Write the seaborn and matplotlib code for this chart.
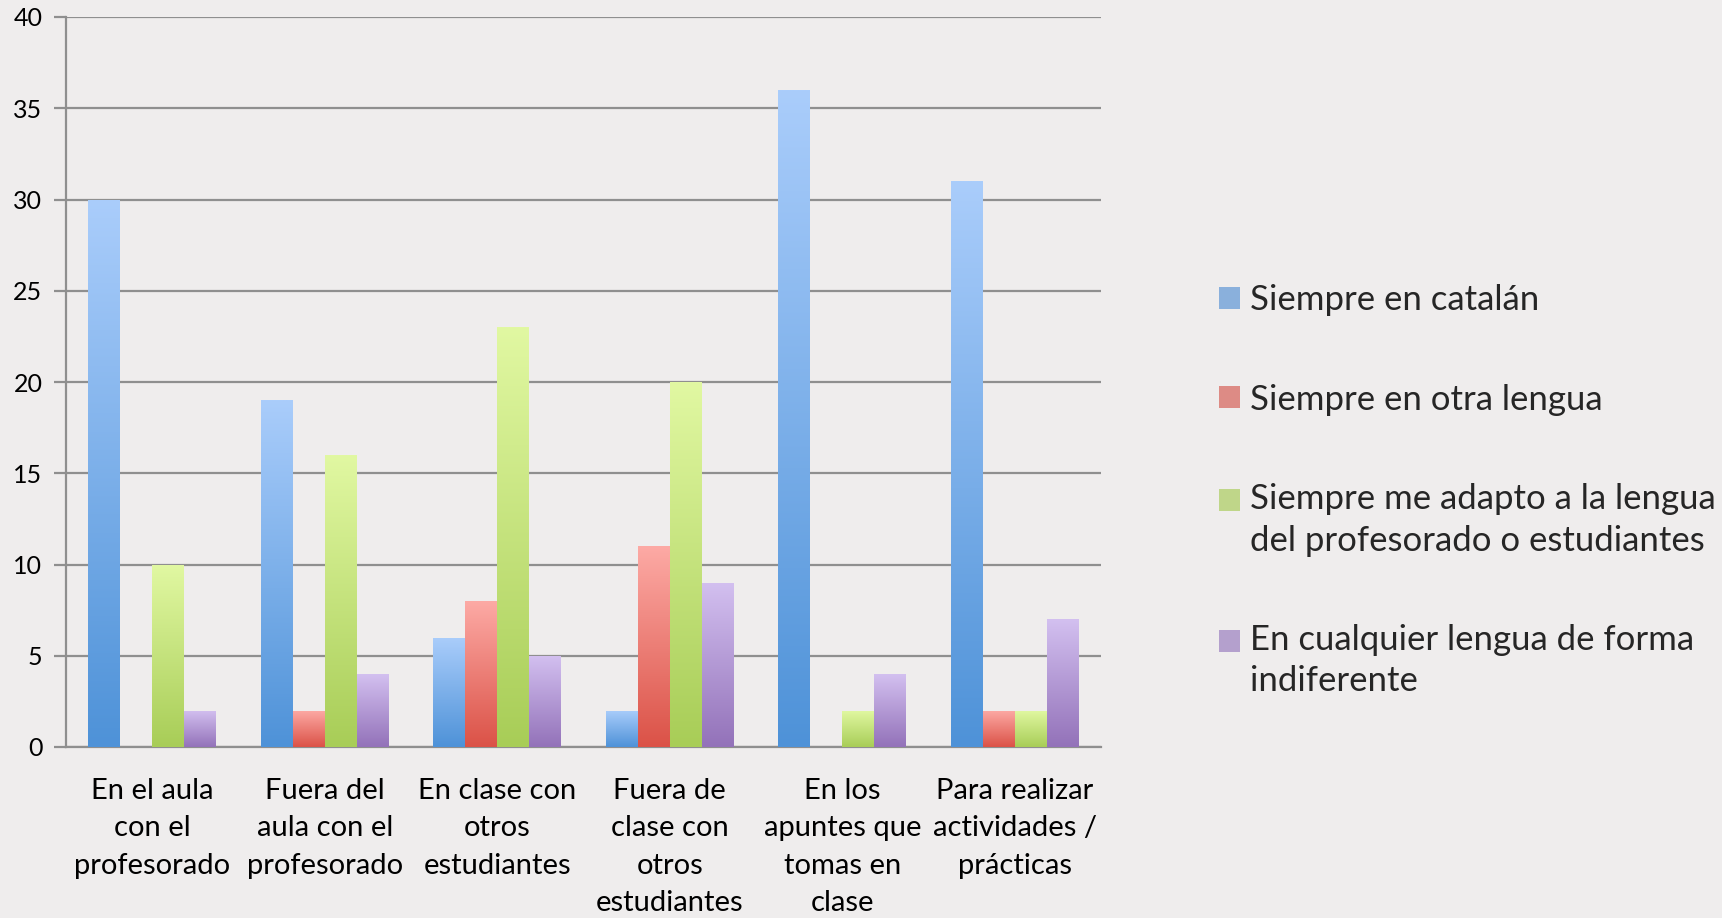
import numpy as np
import pandas as pd
import seaborn as sns
import matplotlib.pyplot as plt
from matplotlib.colors import LinearSegmentedColormap
from matplotlib.legend_handler import HandlerPatch
from matplotlib.patches import Rectangle

categories = ['En el aula\ncon el\nprofesorado', 'Fuera del\naula con el\nprofesorado',
              'En clase con\notros\nestudiantes', 'Fuera de\nclase con\notros\nestudiantes',
              'En los\napuntes que\ntomas en\nclase', 'Para realizar\nactividades /\nprácticas']
series = ['Siempre en catalán', 'Siempre en otra lengua',
          'Siempre me adapto a la lengua\ndel profesorado o estudiantes',
          'En cualquier lengua de forma\nindiferente']
catalan = [30, 19, 6, 2, 36, 31]
otra = [0, 2, 8, 11, 0, 2]
adapto = [10, 16, 23, 20, 2, 2]
cualquier = [2, 4, 5, 9, 4, 7]

# top / bottom colours of each series gradient
tops = ['#aacdfb', '#fdaaa5', '#e1f8a2', '#d3c0f0']
bottoms = ['#4e92d8', '#db5247', '#a8cd57', '#9372b9']

df = pd.DataFrame({
    'cat': categories * 4,
    'serie': [s for s in series for _ in categories],
    'value': catalan + otra + adapto + cualquier,
})

sns.set_theme(style='white')
plt.rcParams['font.family'] = ['Lato', 'DejaVu Sans']

fig = plt.figure(figsize=(17.22, 9.18), dpi=100)
fig.patch.set_facecolor('#efeded')
ax = fig.add_axes([66 / 1722, 1 - 747 / 918, (1101 - 66) / 1722, (747 - 17) / 918])
ax.set_facecolor('none')

mids = [LinearSegmentedColormap.from_list('m', [t, b])(0.5) for t, b in zip(tops, bottoms)]
sns.barplot(data=df, x='cat', y='value', hue='serie', hue_order=series,
            palette=mids, width=0.74, gap=0, linewidth=0, ax=ax, zorder=3)

# vertical gradient inside each bar
n_cat = len(categories)
for i, patch in enumerate(ax.patches[:n_cat * 4]):
    s = i // n_cat
    h = patch.get_height()
    if h <= 0:
        continue
    cmap = LinearSegmentedColormap.from_list('g', [bottoms[s], tops[s]])
    x0 = patch.get_x()
    w = patch.get_width()
    grad = np.linspace(0, 1, 256).reshape(-1, 1)
    im = ax.imshow(grad, cmap=cmap, origin='lower', aspect='auto',
                   extent=[x0, x0 + w, 0, h], zorder=4)
    im.set_clip_path(patch)

ax.set_xlim(-0.5, n_cat - 0.5)
ax.set_ylim(0, 40)
ax.set_yticks(range(0, 41, 5))
ax.yaxis.grid(True, color='#8f8f8f', linewidth=1.6, zorder=0)
ax.set_axisbelow(True)
for side in ['top', 'right']:
    ax.spines[side].set_visible(False)
ax.spines['left'].set_color('#8f8f8f')
ax.spines['left'].set_linewidth(1.6)
ax.spines['bottom'].set_color('#8f8f8f')
ax.spines['bottom'].set_linewidth(1.6)
ax.tick_params(axis='y', left=True, length=9, width=1.6, color='#8f8f8f',
               labelsize=18, labelcolor='black', pad=8)
ax.tick_params(axis='x', bottom=False, labelsize=21, labelcolor='black', pad=16)
for lab in ax.get_xticklabels():
    lab.set_linespacing(1.55)
ax.set_xlabel('')
ax.set_ylabel('')

handles, labels = ax.get_legend_handles_labels()
ax.get_legend().remove()

n_lines = {id(h): l.count('\n') + 1 for h, l in zip(handles, labels)}


# legend square sits next to the first line of the label
def top_square(legend, orig_handle, xdescent, ydescent, width, height, fontsize):
    shift = (n_lines[id(orig_handle)] - 1) * 0.5 * 1.17 * fontsize
    return Rectangle((-xdescent, -ydescent + shift), width, height)


leg = fig.legend(handles, labels, loc='upper left', bbox_to_anchor=(1219 / 1722, 1 - 284 / 918),
                 frameon=False, fontsize=25, handlelength=0.6, handleheight=0.6,
                 handletextpad=0.3, labelspacing=1.95, borderpad=0, borderaxespad=0,
                 handler_map={h: HandlerPatch(patch_func=top_square) for h in handles})
for t in leg.get_texts():
    t.set_linespacing(1.35)

plt.savefig('out.png', dpi=100, facecolor=fig.get_facecolor())
